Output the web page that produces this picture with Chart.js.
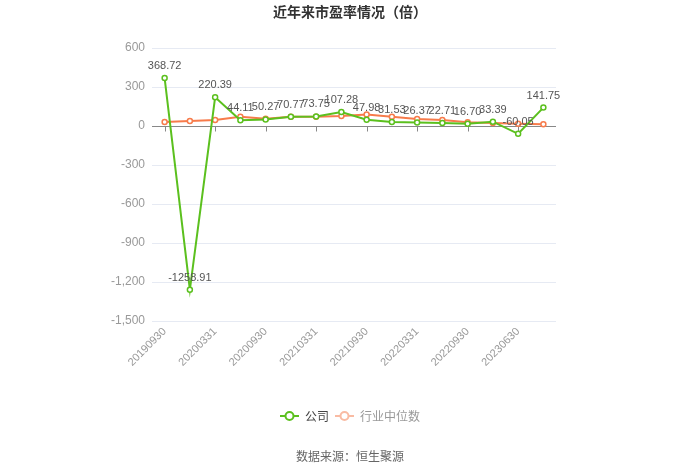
<!DOCTYPE html>
<html>
<head>
<meta charset="utf-8">
<script src="https://cdn.jsdelivr.net/npm/chart.js@4/dist/chart.umd.min.js"></script>
<style>
  html, body { margin: 0; padding: 0; background: #fff; }
  #wrap { width: 700px; height: 473px; position: relative; }
</style>
</head>
<body>
<div id="wrap"><canvas id="c"></canvas></div>
<script>
const categories = ['20190930','20191231','20200331','20200630','20200930','20201231','20210331','20210630','20210930','20211231','20220331','20220630','20220930','20221231','20230630','20230930'];
const companyPE = [368.72, -1258.91, 220.39, 44.11, 50.27, 70.77, 73.75, 107.28, 47.98, 31.53, 26.37, 22.71, 16.70, 33.39, -60.05, 141.75];
const industryPE = [30, 38, 46, 71, 56, 71, 71, 76, 89, 71, 53, 46, 28, 23, 18, 13];
const yTickValues = [600, 300, 0, -300, -600, -900, -1200, -1500];

const GREEN = '#5BC01E';
const ORANGE = '#F77B4B';

function legendIcon(color) {
  const c = document.createElement('canvas');
  c.width = 19; c.height = 12;
  const g = c.getContext('2d');
  g.strokeStyle = color; g.lineWidth = 2;
  g.beginPath(); g.moveTo(0, 6); g.lineTo(19, 6); g.stroke();
  g.beginPath(); g.arc(9.5, 6, 4, 0, Math.PI * 2);
  g.fillStyle = '#fff'; g.fill(); g.stroke();
  return c;
}

const labelPlugin = {
  id: 'valueLabels',
  afterDatasetsDraw(chart) {
    const ctx = chart.ctx;
    const meta = chart.getDatasetMeta(0);
    ctx.save();
    ctx.font = '11px "Liberation Sans", Arial, sans-serif';
    ctx.fillStyle = '#555';
    ctx.textAlign = 'center';
    ctx.textBaseline = 'middle';
    meta.data.forEach((pt, i) => {
      ctx.fillText(companyPE[i].toFixed(2), pt.x, pt.y - 12);
    });
    ctx.restore();
  }
};

const tickPlugin = {
  id: 'zeroTicks',
  beforeDatasetsDraw(chart) {
    const ctx = chart.ctx;
    const xs = chart.scales.x, ys = chart.scales.y;
    const y0 = Math.round(ys.getPixelForValue(0)) + 0.5;
    ctx.save();
    ctx.strokeStyle = '#888';
    ctx.lineWidth = 1;
    ctx.beginPath();
    ctx.moveTo(chart.chartArea.left, y0);
    ctx.lineTo(chart.chartArea.right, y0);
    categories.forEach((c, i) => {
      if (i % 2 === 0) {
        const x = Math.round(xs.getPixelForValue(i)) + 0.5;
        ctx.moveTo(x, y0);
        ctx.lineTo(x, y0 + 5);
      }
    });
    ctx.stroke();
    ctx.restore();
  }
};

new Chart(document.getElementById('c'), {
  type: 'line',
  data: {
    labels: categories,
    datasets: [
      {
        label: '公司',
        data: companyPE,
        borderColor: GREEN,
        backgroundColor: '#fff',
        borderWidth: 2,
        pointRadius: 2.5,
        pointBorderWidth: 1.5,
        pointBackgroundColor: '#fff',
        pointBorderColor: GREEN,
        pointStyle: 'circle',
        tension: 0
      },
      {
        label: '行业中位数',
        data: industryPE,
        borderColor: ORANGE,
        backgroundColor: '#fff',
        borderWidth: 2,
        pointRadius: 2.5,
        pointBorderWidth: 1.5,
        pointBackgroundColor: '#fff',
        pointBorderColor: ORANGE,
        pointStyle: 'circle',
        tension: 0
      }
    ]
  },
  options: {
    responsive: true,
    maintainAspectRatio: false,
    animation: false,
    devicePixelRatio: 1,
    layout: { padding: 0 },
    plugins: {
      title: {
        display: true,
        text: '近年来市盈率情况（倍）',
        color: '#333',
        font: { size: 14, weight: 'bold', family: '"Noto Sans CJK SC", sans-serif', lineHeight: 1.2 },
        padding: { top: 3.6, bottom: 27.6 }
      },
      subtitle: {
        display: true,
        position: 'bottom',
        text: '数据来源：恒生聚源',
        color: '#666',
        font: { size: 12, family: '"Noto Sans CJK SC", sans-serif', lineHeight: 1.2 },
        padding: { top: 16.8, bottom: 9.8 }
      },
      legend: {
        display: true,
        position: 'bottom',
        labels: {
          usePointStyle: true,
          pointStyleWidth: 19,
          padding: 6,
          font: { size: 12, family: '"Noto Sans CJK SC", sans-serif' },
          generateLabels(chart) {
            return [
              { text: '公司', pointStyle: legendIcon(GREEN), fontColor: '#444', datasetIndex: 0, lineWidth: 0, strokeStyle: 'transparent', fillStyle: 'transparent' },
              { text: '行业中位数', pointStyle: legendIcon('#F9BBA3'), fontColor: '#999', datasetIndex: 1, lineWidth: 0, strokeStyle: 'transparent', fillStyle: 'transparent' }
            ];
          }
        }
      },
      tooltip: { enabled: false }
    },
    scales: {
      x: {
        type: 'category',
        offset: true,
        grid: { display: false, drawTicks: false },
        border: { display: false },
        ticks: {
          autoSkip: false,
          minRotation: 45,
          maxRotation: 45,
          color: '#999',
          padding: 4,
          font: { size: 11, family: '"Liberation Sans", Arial, sans-serif' },
          callback(v, i) { return i % 2 === 0 ? categories[i] : ''; }
        },
        afterFit(scale) { scale.height = 83; }
      },
      y: {
        position: 'left',
        min: -1500,
        max: 600,
        afterBuildTicks(scale) { scale.ticks = yTickValues.map(v => ({ value: v })); },
        grid: {
          drawTicks: false,
          color: '#E6EAF3',
          lineWidth: 1
        },
        border: { display: false },
        ticks: {
          color: '#999',
          padding: 7,
          font: { size: 12, family: '"Liberation Sans", Arial, sans-serif' },
          callback(v) { return v.toLocaleString('en-US'); }
        },
        afterFit(scale) { scale.width = 152; }
      },
      yRight: {
        position: 'right',
        display: true,
        grid: { display: false },
        border: { display: false },
        ticks: { display: false },
        afterFit(scale) { scale.width = 144; }
      }
    }
  },
  plugins: [tickPlugin, labelPlugin]
});
</script>
</body>
</html>
